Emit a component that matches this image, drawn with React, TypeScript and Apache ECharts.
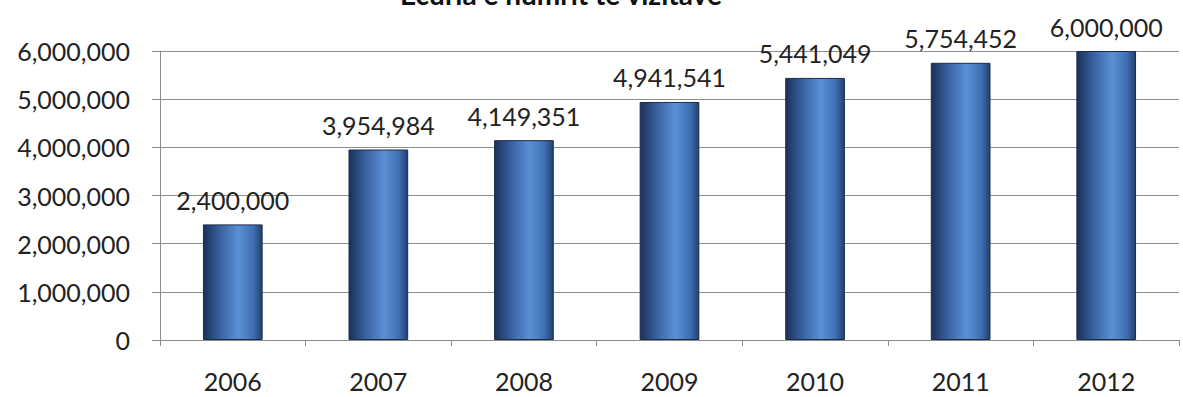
import React, { useEffect, useRef } from "react";
import * as echarts from "echarts";

const titleText = "Ecuria e numrit të vizitave";
const categories = ["2006", "2007", "2008", "2009", "2010", "2011", "2012"];
const visitors = [2400000, 3954984, 4149351, 4941541, 5441049, 5754452, 6000000];

const fmt = (v: number) => v.toLocaleString("en-US");

export default function App() {
  const ref = useRef<HTMLDivElement>(null);
  useEffect(() => {
    if (!ref.current) return;
    const chart = echarts.init(ref.current, undefined, { renderer: "svg" });
    const font = "Lato, 'Open Sans', sans-serif";
    chart.setOption({
      animation: false,
      backgroundColor: "#ffffff",
      graphic: [
        {
          type: "text",
          x: 561,
          y: 8,
          style: {
            text: titleText,
            font: `bold 28px ${font}`,
            fill: "#111111",
            textAlign: "center",
            textVerticalAlign: "bottom",
          },
        },
      ],
      grid: { left: 160, right: 4, top: 51, bottom: 57 },
      xAxis: {
        type: "category",
        data: categories,
        axisLine: { lineStyle: { color: "#8a8a8a", width: 1 } },
        axisTick: { show: true, length: 6, lineStyle: { color: "#8a8a8a" } },
        axisLabel: { margin: 28, fontSize: 25, color: "#222222", fontFamily: font },
      },
      yAxis: {
        type: "value",
        min: 0,
        max: 6000000,
        interval: 1000000,
        axisLine: { show: true, lineStyle: { color: "#8a8a8a", width: 1 } },
        axisTick: { show: true, length: 8, lineStyle: { color: "#8a8a8a" } },
        splitLine: { lineStyle: { color: "#8e8e8e", width: 1 } },
        axisLabel: {
          margin: 30,
          fontSize: 25,
          color: "#222222",
          fontFamily: font,
          formatter: (v: number) => fmt(v),
        },
      },
      series: [
        {
          type: "bar",
          data: visitors,
          barWidth: "41%",
          itemStyle: {
            borderColor: "#1b2c48",
            borderWidth: 1,
            color: new echarts.graphic.LinearGradient(0, 0, 1, 0, [
              { offset: 0, color: "#1a3158" },
              { offset: 0.3, color: "#3b64a4" },
              { offset: 0.6, color: "#5b90d6" },
              { offset: 0.85, color: "#3f6fb2" },
              { offset: 1, color: "#22406e" },
            ]),
          },
          label: {
            show: true,
            position: "top",
            distance: 12,
            fontSize: 25,
            color: "#222222",
            fontFamily: font,
            formatter: (p: any) => fmt(p.value),
          },
        },
      ],
    });
    return () => chart.dispose();
  }, []);
  return <div ref={ref} style={{ width: 1183, height: 397, position: "absolute", left: 0, top: 0 }} />;
}
